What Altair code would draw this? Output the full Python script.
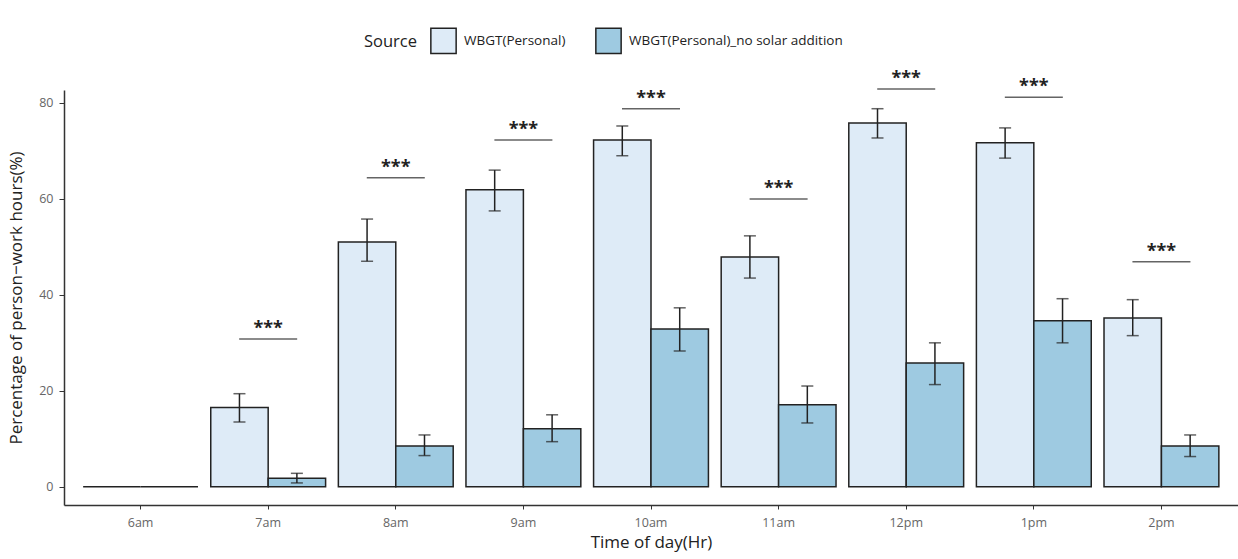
import altair as alt
import pandas as pd

# Hour of day categories
times = ["6am", "7am", "8am", "9am", "10am", "11am", "12pm", "1pm", "2pm"]
sources = ["WBGT(Personal)", "WBGT(Personal)_no solar addition"]

# Percentage of person-work hours, with error-bar bounds
personal = [0, 16.5, 51.0, 61.9, 72.3, 47.9, 75.8, 71.7, 35.2]
personal_lo = [None, 13.5, 47.0, 57.5, 69.0, 43.5, 72.7, 68.5, 31.5]
personal_hi = [None, 19.4, 55.8, 66.0, 75.2, 52.3, 78.8, 74.8, 39.0]

nosolar = [0, 1.8, 8.5, 12.1, 32.9, 17.1, 25.8, 34.6, 8.5]
nosolar_lo = [None, 0.8, 6.5, 9.4, 28.3, 13.3, 21.3, 30.0, 6.3]
nosolar_hi = [None, 2.8, 10.8, 15.0, 37.3, 21.0, 30.0, 39.2, 10.8]

# Height of the significance bracket for each hour
sig_times = ["7am", "8am", "9am", "10am", "11am", "12pm", "1pm", "2pm"]
sig_y = [30.8, 64.4, 72.3, 78.8, 60.0, 82.9, 81.2, 46.9]
sig_label = ["***"] * len(sig_times)

rows = []
for i, t in enumerate(times):
    rows.append({"time": t, "source": sources[0], "value": personal[i],
                 "lo": personal_lo[i], "hi": personal_hi[i]})
    rows.append({"time": t, "source": sources[1], "value": nosolar[i],
                 "lo": nosolar_lo[i], "hi": nosolar_hi[i]})
df = pd.DataFrame(rows)
err_df = df.dropna(subset=["lo", "hi"])
sig_df = pd.DataFrame({"time": sig_times, "y": sig_y, "label": sig_label})

FONT = "Open Sans"
Y_DOMAIN = [-3.8, 82.7]

x_enc = alt.X(
    "time:N", sort=times,
    scale=alt.Scale(paddingInner=0.1, paddingOuter=0.15),
    axis=alt.Axis(title="Time of day(Hr)", labelAngle=0, labelColor="#666666",
                  labelFontSize=12.5, labelFont=FONT, labelPadding=7,
                  tickColor="#333333", tickSize=4, domainColor="#333333",
                  domainWidth=1.5, titleFontSize=17, titleFont=FONT,
                  titleFontWeight="normal", titleColor="#222222", titlePadding=6),
)
x_off = alt.XOffset("source:N", sort=sources, scale=alt.Scale(domain=sources))
y_scale = alt.Scale(domain=Y_DOMAIN, nice=False, zero=False)

bars = alt.Chart(df).mark_bar(stroke="#222222", strokeWidth=1.5, clip=False).encode(
    x=x_enc,
    xOffset=x_off,
    y=alt.Y("value:Q", scale=y_scale,
            axis=alt.Axis(title="Percentage of person\u2212work hours(%)",
                          values=[0, 20, 40, 60, 80], grid=False,
                          labelColor="#666666", labelFontSize=12.5, labelFont=FONT,
                          labelPadding=6,
                          tickColor="#333333", tickSize=5, domainColor="#333333",
                          domainWidth=1.5, titleFontSize=17, titleFont=FONT,
                          titleFontWeight="normal", titleColor="#222222",
                          titlePadding=13)),
    y2=alt.datum(0),
    color=alt.Color(
        "source:N", sort=sources,
        scale=alt.Scale(domain=sources, range=["#deebf7", "#9ecae1"]),
        legend=alt.Legend(title="Source", orient="none", direction="horizontal",
                          legendX=300, legendY=-63, titleOrient="left",
                          titleFontSize=16.5, titleFont=FONT, titleFontWeight="normal",
                          titleColor="#222222", titlePadding=12, titleBaseline="middle",
                          labelFontSize=13.5, labelFont=FONT, labelColor="#222222",
                          labelOffset=7, labelLimit=400, symbolType="square",
                          symbolSize=640,
                          symbolStrokeColor="#222222", symbolStrokeWidth=1.5,
                          symbolOpacity=1, columnPadding=26),
    ),
)

err_rule = alt.Chart(err_df).mark_rule(color="#222222", strokeWidth=1.5).encode(
    x=alt.X("time:N", sort=times), xOffset=x_off,
    y=alt.Y("lo:Q", scale=y_scale), y2="hi:Q",
)
err_lo = alt.Chart(err_df).mark_tick(color="#222222", thickness=1.5, size=12,
                                     orient="horizontal").encode(
    x=alt.X("time:N", sort=times), xOffset=x_off,
    y=alt.Y("lo:Q", scale=y_scale),
)
err_hi = alt.Chart(err_df).mark_tick(color="#222222", thickness=1.5, size=12,
                                     orient="horizontal").encode(
    x=alt.X("time:N", sort=times), xOffset=x_off,
    y=alt.Y("hi:Q", scale=y_scale),
)

sig_line = alt.Chart(sig_df).mark_tick(color="#222222", thickness=1.5, size=58,
                                       orient="horizontal").encode(
    x=alt.X("time:N", sort=times),
    y=alt.Y("y:Q", scale=y_scale),
)
sig_text = alt.Chart(sig_df).mark_text(fontSize=18, font=FONT, color="#222222",
                                       fontWeight="bold",
                                       baseline="middle", dy=-10).encode(
    x=alt.X("time:N", sort=times),
    y=alt.Y("y:Q", scale=y_scale),
    text="label:N",
)

chart = alt.layer(bars, err_rule, err_lo, err_hi, sig_line, sig_text).properties(
    width=1174, height=415,
    autosize=alt.AutoSizeParams(type="none"),
    padding={"left": 64, "top": 90, "right": 0, "bottom": 54},
    background="white",
).configure_view(stroke=None).configure_axis(grid=False)

chart.save("out.html", embed_options={"renderer": "svg", "actions": False})
